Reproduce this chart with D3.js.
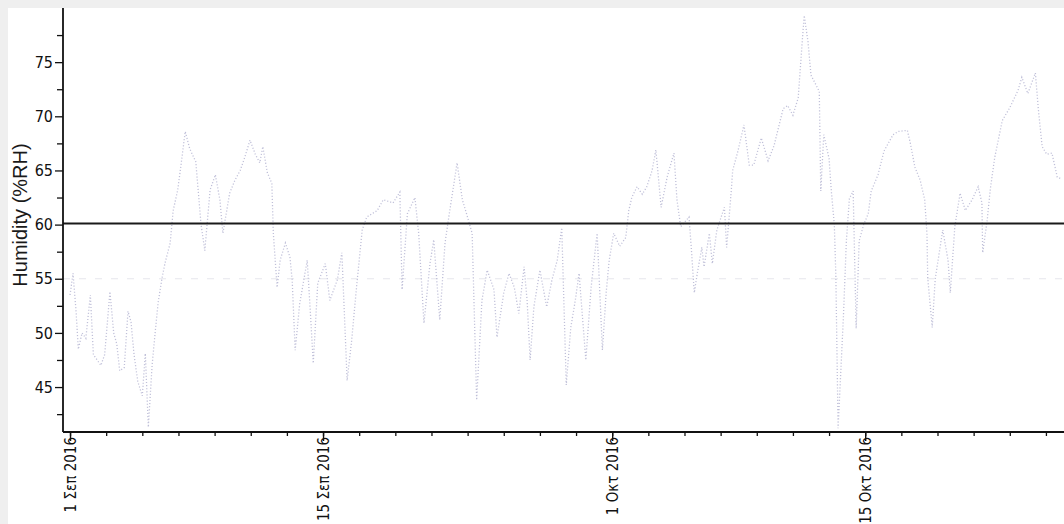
<!DOCTYPE html>
<html>
<head>
<meta charset="utf-8">
<script src="https://cdn.jsdelivr.net/npm/d3@7"></script>
<style>
  html, body { margin: 0; padding: 0; background: #efefef; }
  svg { display: block; }
  .tick-label { font-family: "Liberation Sans Narrow", "DejaVu Sans Condensed", "Arial Narrow", sans-serif; font-stretch: condensed; }
</style>
</head>
<body>
<svg id="chart" width="1064" height="524"></svg>
<script>
// ---- data ----
const seriesStart = "2016-09-01T00:00";          // first reading
const hoursSinceStart = [0,4,8,11,16,21,27,31,36,41,46,53,58,62,66,72,77,81,85,90,96,100,104,109,113,117,122,126,133,137,143,147,153,159,167,171,174,179,186,193,199,203,212,219,226,232,239,246,252,256,262,268,270,275,279,286,292,295,299,305,315,319,323,329,339,345,355,361,368,374,381,388,394,408,416,429,438,441,448,458,463,470,478,483,491,498,503,514,521,527,534,540,547,554,563,567,576,583,590,596,603,607,611,616,624,633,640,647,653,659,665,671,676,685,692,700,707,712,716,722,730,738,742,746,753,760,766,773,778,785,793,802,806,811,822,825,829,833,839,842,849,853,859,869,872,878,880,887,895,902,908,918,927,935,947,953,960,967,973,975,980,984,995,997,1001,1008,1011,1015,1017,1020,1027,1031,1035,1040,1044,1048,1054,1060,1064,1073,1081,1093,1100,1112,1116,1122,1129,1135,1138,1139,1145,1149,1159,1166,1169,1175,1182,1189,1198,1206,1211,1212,1218,1222,1228,1238,1248,1259,1264,1272,1282,1286,1291,1297,1304,1311,1317];
const humidity = [53.5,55.5,52,48.5,50,49.5,53.5,48,47.5,47,48,53.8,50,49,46.5,46.8,52,51,48,45.5,44.2,48.1,41.3,47,50,52.8,55,56.4,58.3,61.3,63.2,65.3,68.6,67,65.8,62.5,60,57.6,63.2,64.6,62.3,59.2,62.9,64.1,65,66.2,67.8,66.5,65.7,67.2,64.8,63.8,59.2,54.2,56.7,58.3,57,54.9,48.4,52.7,56.7,52.1,47.2,54.6,56.4,53,54.9,57.4,45.6,49.3,54.6,59.5,60.7,61.3,62.3,62,63,54,61,62.5,59.2,50.9,56.4,58.6,51.2,58.3,60.7,65.7,62.3,60.9,59.2,43.8,53,55.8,54,49.6,53.7,55.5,54.2,51.8,56.1,53,47.5,52.4,55.8,52.4,54.9,56.7,59.7,45.2,50.5,53,55.5,47.5,54.2,59.2,48.4,53.7,56.7,59.2,58,58.8,61.3,62.5,63.5,62.8,63.5,65,66.9,61.6,64.4,66.6,62.3,59.8,60.7,57.9,53.7,55.5,57.9,56.1,59.2,56.4,59.5,61.6,57.9,63,65,66.8,69.2,65.5,65.5,68,65.9,67.3,70.7,71,70.1,71.7,77.5,79.3,76.9,73.8,72.3,63.1,68.3,66.1,63.1,60,55.3,41.2,51.4,58.5,62.4,63.1,50.4,58.5,60,61,63.1,64.6,66.8,68.3,68.6,68.7,67.5,65.3,64.1,62.3,59.2,55.1,50.5,55,59.5,56.7,53.7,59.8,62.9,61.3,62.3,63.5,62,57.4,60.4,63.2,66.2,69.6,70.8,72.4,73.6,72.1,74,70.6,67.2,66.5,66.6,64.4,64.2];
const upperLimit = 60.1;   // thick reference line
const lowerLimit = 55;     // faint dashed reference line
const yTicks = [45, 50, 55, 60, 65, 70, 75];
const yMinorTicks = [42.5, 47.5, 52.5, 57.5, 62.5, 67.5, 72.5, 77.5];
const xTickDates = ["2016-09-01", "2016-09-15", "2016-10-01", "2016-10-15"];
const xTickLabels = ["1 Σεπ 2016", "15 Σεπ 2016", "1 Οκτ 2016", "15 Οκτ 2016"];
const yTitle = "Humidity (%RH)";
const yDomain = [40.85, 80];
const xDomain = ["2016-08-31T14:40", "2016-10-26T00:00"];

// ---- drawing ----
const svg = d3.select("#chart");
const W = 1064, H = 524;
const mLeft = 63, mTop = 8, mBottom = 432, mRight = 1064;
const parse = s => new Date(s);
const t0 = parse(seriesStart);
const points = hoursSinceStart.map((h, i) => ({ t: d3.timeHour.offset(t0, h), v: humidity[i] }));

const x = d3.scaleTime().domain(xDomain.map(parse)).range([mLeft, mRight]);
const y = d3.scaleLinear().domain(yDomain).range([mBottom, mTop]);

// white paper area
svg.append("rect").attr("x", 8).attr("y", 8).attr("width", W - 8).attr("height", H - 8).attr("fill", "#ffffff");

// faint dashed lower line
svg.append("line")
  .attr("x1", mLeft).attr("x2", mRight)
  .attr("y1", y(lowerLimit)).attr("y2", y(lowerLimit))
  .attr("stroke", "#e6e6ec").attr("stroke-width", 1).attr("stroke-dasharray", "7,9");

// data series: faint dotted trace
const line = d3.line().x(d => x(d.t)).y(d => y(d.v));
svg.append("path").datum(points)
  .attr("d", line)
  .attr("fill", "none")
  .attr("stroke", "#bfbfd8")
  .attr("stroke-width", 1.3)
  .attr("stroke-dasharray", "1.1,2");

// thick reference line
svg.append("line")
  .attr("x1", mLeft).attr("x2", mRight)
  .attr("y1", y(upperLimit)).attr("y2", y(upperLimit))
  .attr("stroke", "#1a1a1a").attr("stroke-width", 2.2);

// y axis
const yAxis = d3.axisLeft(y).tickValues(yTicks).tickSize(8).tickPadding(2).tickFormat(d3.format("d"));
const gy = svg.append("g").attr("transform", `translate(${mLeft},0)`).call(yAxis);
gy.select(".domain").remove();
gy.selectAll(".tick line").attr("stroke", "#111").attr("stroke-width", 1.3);
gy.selectAll(".tick text").attr("class", "tick-label").attr("fill", "#111").style("font-size", "16px");
const yMinor = d3.axisLeft(y).tickValues(yMinorTicks).tickSize(6).tickFormat("");
const gym = svg.append("g").attr("transform", `translate(${mLeft},0)`).call(yMinor);
gym.select(".domain").remove();
gym.selectAll(".tick line").attr("stroke", "#111").attr("stroke-width", 1.3);
svg.append("line").attr("x1", mLeft).attr("x2", mLeft).attr("y1", mTop).attr("y2", mBottom)
  .attr("stroke", "#111").attr("stroke-width", 1.8);

// x axis
const xMinorTicks = d3.timeDay.range(parse("2016-09-01T00:00"), x.domain()[1], 2);
const gxm = svg.append("g").attr("transform", `translate(0,${mBottom})`)
  .call(d3.axisBottom(x).tickValues(xMinorTicks).tickSize(4).tickFormat(""));
gxm.select(".domain").remove();
gxm.selectAll(".tick line").attr("stroke", "#111").attr("stroke-width", 1.3);

const labelOf = new Map(xTickDates.map((d, i) => [parse(d + "T00:00").getTime(), xTickLabels[i]]));
const gx = svg.append("g").attr("transform", `translate(0,${mBottom})`)
  .call(d3.axisBottom(x).tickValues(xTickDates.map(d => parse(d + "T00:00")))
    .tickSize(9).tickFormat(d => labelOf.get(d.getTime())));
gx.select(".domain").remove();
gx.selectAll(".tick line").attr("stroke", "#111").attr("stroke-width", 1.4);
gx.selectAll(".tick text")
  .attr("class", "tick-label")
  .attr("fill", "#111")
  .style("font-size", "15px")
  .attr("transform", "rotate(-90)")
  .attr("x", -5).attr("y", 0).attr("dy", "0.36em")
  .style("text-anchor", "end");
svg.append("line").attr("x1", mLeft).attr("x2", mRight).attr("y1", mBottom).attr("y2", mBottom)
  .attr("stroke", "#111").attr("stroke-width", 1.8);

// y title
svg.append("text")
  .attr("transform", `translate(27,215) rotate(-90)`)
  .attr("text-anchor", "middle")
  .attr("fill", "#1a1a1a")
  .style("font-family", "'Liberation Sans', Arial, sans-serif")
  .style("font-size", "20px")
  .text(yTitle);
</script>
</body>
</html>
